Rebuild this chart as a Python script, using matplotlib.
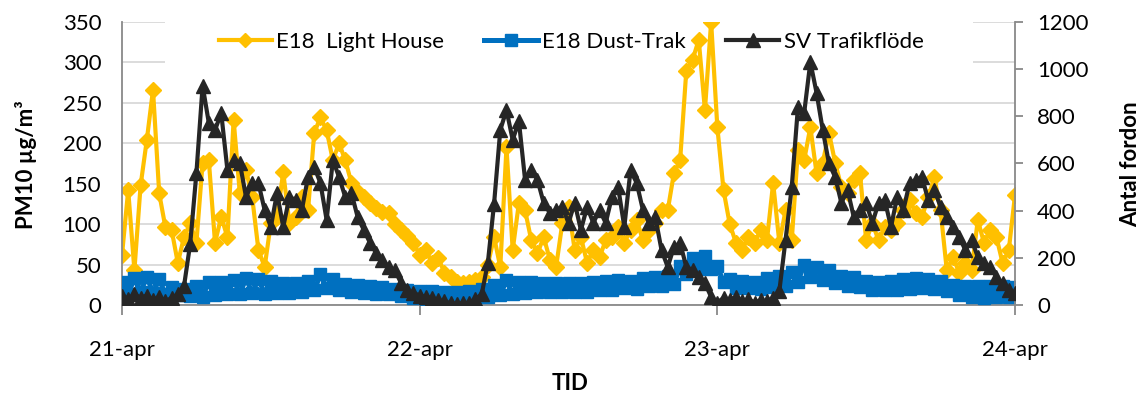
import numpy as np
import matplotlib
matplotlib.use("Agg")
import matplotlib.pyplot as plt
from matplotlib.patches import Rectangle

plt.rcParams['font.family'] = ['Lato', 'DejaVu Sans']

# Half-hourly readings, 21-apr 00:00 to 24-apr 00:00
day_labels = ["21-apr", "22-apr", "23-apr", "24-apr"]
step_hours = 0.5

light_house = [
    62, 142, 43, 148, 204, 266, 138, 96, 93, 52,
    84, 101, 77, 176, 179, 77, 109, 84, 229, 138,
    167, 133, 68, 47, 101, 109, 164, 101, 109, 133,
    117, 213, 232, 216, 179, 200, 179, 151, 140, 133,
    126, 120, 115, 114, 100, 93, 85, 77,
    62, 68, 52, 58, 40, 35, 28, 27, 29, 31,
    35, 50, 84, 47, 195, 68, 126, 117, 80, 64,
    84, 56, 47, 101, 121, 68, 84, 52, 68, 59,
    80, 84, 96, 77, 93, 105, 80, 93, 101, 117,
    117, 163, 179, 290, 303, 328, 241, 350,
    220, 142, 100, 77, 68, 84, 77, 93, 80, 151,
    77, 117, 80, 192, 179, 220, 163, 176, 213, 176,
    146, 138, 155, 163, 80, 101, 80, 96, 93, 101,
    117, 130, 114, 109, 133, 158, 117, 43, 59, 40,
    52, 43, 105, 77, 93, 84, 52, 68, 136,
]

dust_trak = [
    28, 14, 33, 16, 35, 15, 32, 13,
    22, 12, 20, 11, 24, 10, 29, 12,
    29, 13, 31, 14, 33, 15, 32, 14,
    30, 15, 27, 15, 27, 16, 30, 18,
    38, 21, 32, 18, 26, 16, 25, 15,
    24, 14, 22, 13, 20, 11, 18, 9,
    17, 8, 17, 8, 16, 7, 16, 7,
    17, 8, 20, 10, 25, 12, 31, 13,
    29, 15, 28, 16, 27, 16, 27, 16,
    27, 16, 27, 16, 28, 18, 30, 19,
    31, 21, 30, 20, 33, 23, 35, 24,
    36, 26, 48, 38, 58, 45, 60, 44,
    48, 28, 32, 21, 30, 21, 29, 20,
    34, 22, 36, 24, 41, 29, 50, 35,
    47, 31, 43, 27, 36, 23, 35, 22,
    30, 18, 29, 18, 30, 19, 32, 20,
    33, 21, 32, 20, 30, 17, 25, 12,
    24, 10, 24, 9, 24, 10, 23, 10, 22,
]

sv_traffic = [
    40, 25, 45, 30, 40, 20, 35, 15, 30, 45,
    80, 260, 560, 930, 772, 742, 814, 572, 615, 602,
    458, 517, 517, 403, 331, 475, 331, 458, 445, 403,
    543, 585, 517, 360, 615, 543, 458, 475, 373, 318,
    263, 220, 191, 161, 148, 93, 64, 51,
    40, 34, 30, 20, 15, 8, 5, 8, 10, 25,
    45, 180, 430, 742, 827, 700, 780, 530, 572, 530,
    433, 390, 403, 416, 348, 433, 318, 416, 348, 403,
    348, 458, 500, 331, 572, 517, 403, 348, 373, 233,
    161, 246, 263, 161, 148, 119, 93, 34,
    10, 30, 20, 35, 15, 25, 10, 20, 15, 30,
    60, 276, 500, 840, 814, 1030, 900, 742, 600, 543,
    433, 488, 373, 403, 433, 348, 433, 445, 331, 458,
    403, 517, 530, 543, 445, 488, 416, 373, 331, 288,
    233, 276, 204, 178, 161, 119, 93, 64, 51,
]

t = np.arange(len(light_house)) * step_hours / 24.0

W, H = 1147, 398
fig = plt.figure(figsize=(W / 100, H / 100), dpi=100)
ax = fig.add_axes([122 / W, (H - 305) / H, (1015 - 122) / W, 283 / H])
ax2 = ax.twinx()

axis_grey = '#898989'
fs = 16

# PM10 series on the left axis
l1, = ax.plot(t, light_house, color='#FFC000', lw=3.0, marker='D', ms=8,
              zorder=2, label='E18  Light House')
l2, = ax.plot(t, dust_trak, color='#0070C0', lw=3.6, marker='s', ms=9,
              zorder=3, label='E18 Dust-Trak')
# Traffic counts on the right axis
l3, = ax2.plot(t, sv_traffic, color='#262626', lw=3.0, marker='^', ms=10.5,
               zorder=3, label='SV Trafikflöde')

ax.set_xlim(0, 3)
ax.set_ylim(0, 350)
ax2.set_ylim(0, 1200)

ax.set_yticks(np.arange(0, 351, 50))
ax2.set_yticks(np.arange(0, 1201, 200))
ax.set_xticks(np.arange(len(day_labels)))
ax.set_xticklabels(day_labels)

ax.yaxis.grid(True, color='#D9D9D9', lw=1.3)
ax.set_axisbelow(True)

# white backing behind the legend, hiding the gridlines there
ax.add_patch(Rectangle((0.048, 0.83), 0.905, 0.19, transform=ax.transAxes,
                       facecolor='white', edgecolor='none', zorder=1,
                       clip_on=False))

for a in (ax, ax2):
    a.spines['top'].set_visible(False)
ax.spines['right'].set_visible(False)
ax2.spines['left'].set_visible(False)
ax2.spines['bottom'].set_visible(False)
for s in ('left', 'bottom'):
    ax.spines[s].set_color(axis_grey)
    ax.spines[s].set_linewidth(1.3)
ax2.spines['right'].set_color(axis_grey)
ax2.spines['right'].set_linewidth(1.3)

ax.tick_params(axis='x', direction='out', length=7, width=1.3, color=axis_grey,
               pad=18, labelsize=fs)
ax.tick_params(axis='y', length=0, pad=15, labelsize=fs)
ax2.tick_params(axis='y', direction='out', length=6, width=1.3, color=axis_grey,
                pad=10, labelsize=fs)

leg = ax2.legend(handles=[l1, l2, l3], loc='center',
                 bbox_to_anchor=(0.503, 0.929), ncol=3, frameon=False,
                 fontsize=fs, handlelength=2.4, handletextpad=0.2,
                 columnspacing=1.8)
for h in leg.legend_handles:
    h.set_markersize(h.get_markersize() * 0.9)

fig.text(26 / W, 1 - 165 / H, "PM10 µg/m³", rotation=90, ha='center',
         va='center', fontsize=fs, fontweight='bold')
fig.text(1131 / W, 1 - 164 / H, "Antal fordon", rotation=90, ha='center',
         va='center', fontsize=fs, fontweight='bold')
fig.text(570 / W, 1 - 383 / H, "TID", ha='center', va='center',
         fontsize=fs, fontweight='bold')

fig.savefig("out.png", dpi=100)
